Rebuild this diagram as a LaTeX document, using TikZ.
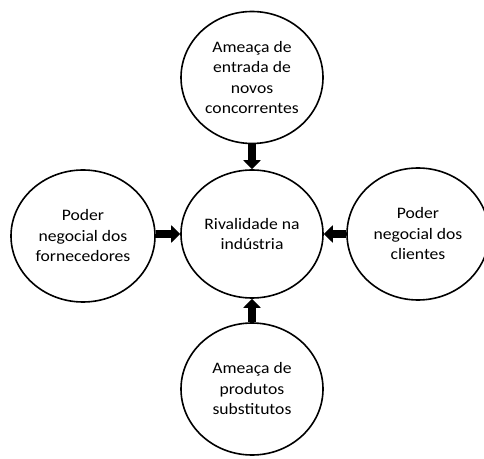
\documentclass[tikz,border=0pt]{standalone}
\usepackage{fontspec}
\setmainfont{Carlito}[FakeStretch=1.1]
\usetikzlibrary{shapes.geometric,arrows.meta}
\begin{document}
\begin{tikzpicture}[x=1pt,y=1pt,
  force/.style={ellipse,draw=black,line width=1.6pt,fill=white,inner sep=0pt,
    minimum width=142pt,minimum height=132pt,align=center,
    font=\fontsize{16}{20.5}\selectfont},
  blockarrow/.style={line width=7.5pt,draw=black,
    -{Triangle[length=9pt,width=17pt]}}
]
\useasboundingbox (0,0) rectangle (484,458);
\node[force,minimum height=128pt] (c) at (252,224) {Rivalidade na\\indústria};
\node[force] (t) at (252,380.5) {Ameaça de\\entrada de\\novos\\concorrentes};
\node[force] (b) at (252,69) {Ameaça de\\produtos\\substitutos};
\node[force,minimum width=144pt] (l) at (83,222) {Poder\\negocial dos\\fornecedores};
\node[force] (r) at (418,224) {Poder\\negocial dos\\clientes};
\draw[blockarrow] (t.south) -- (c.north);
\draw[blockarrow] (b.north) -- (c.south);
\draw[blockarrow] (l.east |- c.west) -- (c.west);
\draw[blockarrow] (r.west) -- (c.east);
\end{tikzpicture}
\end{document}
